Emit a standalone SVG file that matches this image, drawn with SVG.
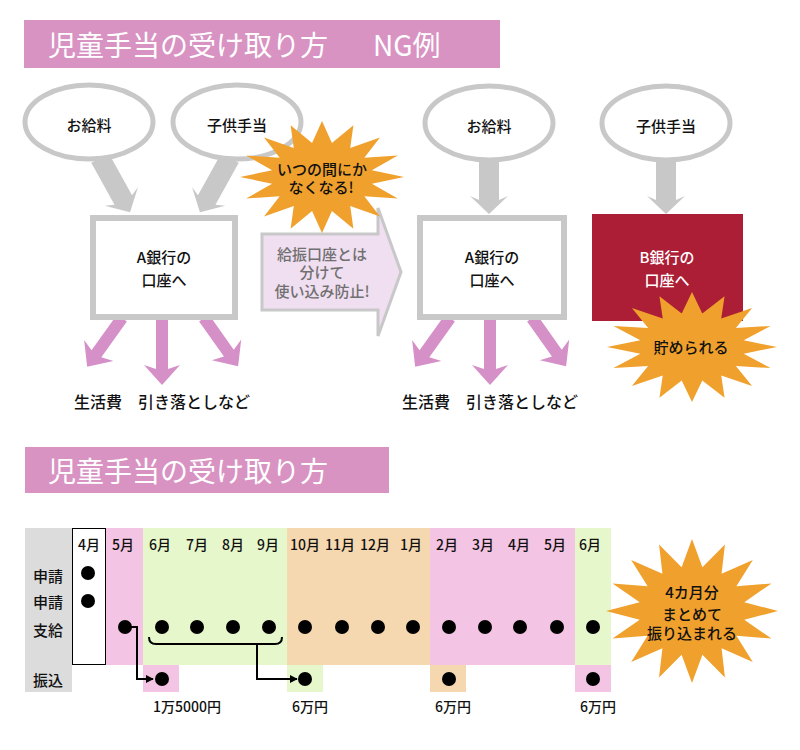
<svg xmlns="http://www.w3.org/2000/svg" xmlns:xlink="http://www.w3.org/1999/xlink" width="800" height="750" viewBox="0 0 800 750">
<style>
text{font-family:"Noto Sans CJK JP","Liberation Sans",sans-serif;fill:#111;font-weight:500}
.t{font-size:15px;text-anchor:middle}
.title{font-size:28px;fill:#fff;font-weight:400}
.bar{fill:#d893c3}
.ell{fill:#fff;stroke:#c8c8c8;stroke-width:5}
.box{fill:#fff;stroke:#c8c8c8;stroke-width:6}
.garrow{fill:#c8c8c8}
.parrow{fill:#d690c8}
.star{fill:#f0a02c}
.m{font-size:14px;text-anchor:middle}
.lbl{font-size:15px;text-anchor:middle}
.dot{fill:#000}
.ln{fill:none;stroke:#000;stroke-width:2}
</style>
<defs>
<path id="star" d="M100,0 L60.8,12.1 L92.4,38.3 L51.6,34.4 L70.7,70.7 L34.4,51.6 L38.3,92.4 L12.1,60.8 L0,100 L-12.1,60.8 L-38.3,92.4 L-34.4,51.6 L-70.7,70.7 L-51.6,34.4 L-92.4,38.3 L-60.8,12.1 L-100,0 L-60.8,-12.1 L-92.4,-38.3 L-51.6,-34.4 L-70.7,-70.7 L-34.4,-51.6 L-38.3,-92.4 L-12.1,-60.8 L0,-100 L12.1,-60.8 L38.3,-92.4 L34.4,-51.6 L70.7,-70.7 L51.6,-34.4 L92.4,-38.3 L60.8,-12.1 Z"/>
<marker id="ah" viewBox="0 0 10 10" refX="9" refY="5" markerWidth="8" markerHeight="8" markerUnits="userSpaceOnUse" orient="auto"><path d="M0,0 L10,5 L0,10 Z" fill="#000"/></marker>
</defs>
<rect width="800" height="750" fill="#fff"/>

<g id="title1">
<rect class="bar" x="24" y="20" width="476" height="48"/>
<text class="title" x="48" y="56">児童手当の受け取り方<tspan x="373">NG例</tspan></text>
</g>

<g id="connectors">
<path class="garrow" d="M0,-10 H48 L44,-19 L62,0 L44,19 L48,10 H0 Z" transform="translate(100,158) rotate(61)"/>
<path class="garrow" d="M0,-10 H48 L44,-19 L62,0 L44,19 L48,10 H0 Z" transform="translate(230,158) rotate(119)"/>
<path class="garrow" d="M0,-10 H40 L36,-19 L54,0 L36,19 L40,10 H0 Z" transform="translate(489,160) rotate(90)"/>
<path class="garrow" d="M0,-10 H40 L36,-19 L54,0 L36,19 L40,10 H0 Z" transform="translate(666,160) rotate(90)"/>
<path class="parrow" d="M0,-6 H44 L40,-18 L60,0 L40,18 L44,6 H0 Z" transform="translate(122,318) rotate(125.5)"/>
<path class="parrow" d="M0,-6 H51 L47,-18 L67,0 L47,18 L51,6 H0 Z" transform="translate(162,318) rotate(90)"/>
<path class="parrow" d="M0,-6 H43 L39,-18 L59,0 L39,18 L43,6 H0 Z" transform="translate(204,318) rotate(54.7)"/>
<path class="parrow" d="M0,-6 H44 L40,-18 L60,0 L40,18 L44,6 H0 Z" transform="translate(450,318) rotate(125.5)"/>
<path class="parrow" d="M0,-6 H51 L47,-18 L67,0 L47,18 L51,6 H0 Z" transform="translate(490,318) rotate(90)"/>
<path class="parrow" d="M0,-6 H43 L39,-18 L59,0 L39,18 L43,6 H0 Z" transform="translate(532,318) rotate(54.7)"/>
</g>

<g id="salary1"><ellipse class="ell" cx="89" cy="122" rx="64" ry="37"/><text class="t" x="89" y="131">お給料</text></g>
<g id="child1"><ellipse class="ell" cx="237" cy="122" rx="64" ry="37"/><text class="t" x="237" y="131">子供手当</text></g>
<g id="bankA1"><rect class="box" x="93" y="218" width="142" height="99"/><text class="t" x="164" y="263">A銀行の</text><text class="t" x="164" y="286">口座へ</text></g>
<g id="expense1"><text class="t" x="162" y="408" style="font-size:16px">生活費　引き落としなど</text></g>

<g id="separate">
<path d="M262,234 H378 V208 L401,272 L378,336 V310 H262 Z" fill="#f0def1" stroke="#c8c8c8" stroke-width="3"/>
<text class="t" x="322" y="260" style="fill:#707070">給振口座とは</text>
<text class="t" x="322" y="278" style="fill:#707070">分けて</text>
<text class="t" x="322" y="297" style="fill:#707070">使い込み防止!</text>
</g>
<g id="star1">
<use xlink:href="#star" class="star" transform="translate(322,177) scale(0.82,0.56)"/>
<text class="t" x="322" y="175">いつの間にか</text>
<text class="t" x="321" y="193">なくなる!</text>
</g>

<g id="salary2"><ellipse class="ell" cx="489" cy="123" rx="64" ry="37"/><text class="t" x="489" y="132">お給料</text></g>
<g id="child2"><ellipse class="ell" cx="666" cy="123" rx="64" ry="37"/><text class="t" x="666" y="132">子供手当</text></g>
<g id="bankA2"><rect class="box" x="420" y="218" width="144" height="99"/><text class="t" x="492" y="263">A銀行の</text><text class="t" x="492" y="286">口座へ</text></g>
<g id="expense2"><text class="t" x="490" y="408" style="font-size:16px">生活費　引き落としなど</text></g>
<g id="bankB"><rect x="592" y="214" width="151" height="107" fill="#ab1e36"/><text class="t" x="667" y="263" style="fill:#fff">B銀行の</text><text class="t" x="667" y="286" style="fill:#fff">口座へ</text></g>
<g id="star2">
<use xlink:href="#star" class="star" transform="translate(692,347) scale(0.85,0.55)"/>
<text class="t" x="691" y="353">貯められる</text>
</g>

<g id="title2">
<rect class="bar" x="25" y="447" width="364" height="46"/>
<text class="title" x="48" y="482">児童手当の受け取り方</text>
</g>

<g id="timeline">
<rect x="25" y="528" width="47" height="164" fill="#dcdcdc"/>
<rect x="72.5" y="528.5" width="33" height="136" fill="#fff" stroke="#000" stroke-width="1"/>
<rect x="106" y="528" width="37" height="137" fill="#f3c4e3"/>
<rect x="143" y="528" width="144" height="137" fill="#e6f8cb"/>
<rect x="287" y="528" width="143" height="137" fill="#f5d8b0"/>
<rect x="430" y="528" width="145" height="137" fill="#f3c4e3"/>
<rect x="575" y="528" width="36" height="137" fill="#e6f8cb"/>
<rect x="143" y="665" width="36" height="27" fill="#f3c4e3"/>
<rect x="287" y="665" width="36" height="27" fill="#e6f8cb"/>
<rect x="430" y="665" width="36" height="27" fill="#f5d8b0"/>
<rect x="575" y="665" width="36" height="27" fill="#f3c4e3"/>
<text class="lbl" x="48" y="582">申請</text>
<text class="lbl" x="48" y="608">申請</text>
<text class="lbl" x="48" y="636">支給</text>
<text class="lbl" x="48" y="686">振込</text>
<text class="m" x="89" y="550">4月</text>
<text class="m" x="123" y="550">5月</text>
<text class="m" x="160" y="550">6月</text>
<text class="m" x="197" y="550">7月</text>
<text class="m" x="233" y="550">8月</text>
<text class="m" x="268" y="550">9月</text>
<text class="m" x="305" y="550">10月</text>
<text class="m" x="340" y="550">11月</text>
<text class="m" x="375" y="550">12月</text>
<text class="m" x="411" y="550">1月</text>
<text class="m" x="447" y="550">2月</text>
<text class="m" x="483" y="550">3月</text>
<text class="m" x="519" y="550">4月</text>
<text class="m" x="555" y="550">5月</text>
<text class="m" x="590" y="550">6月</text>
<g class="dot">
<circle cx="88" cy="573" r="7"/><circle cx="88" cy="601" r="7"/>
<circle cx="125" cy="627" r="7"/><circle cx="162" cy="627" r="7"/><circle cx="197" cy="627" r="7"/><circle cx="233" cy="627" r="7"/><circle cx="269" cy="627" r="7"/><circle cx="305" cy="627" r="7"/><circle cx="342" cy="627" r="7"/><circle cx="378" cy="627" r="7"/><circle cx="413" cy="627" r="7"/><circle cx="449" cy="627" r="7"/><circle cx="485" cy="627" r="7"/><circle cx="520" cy="627" r="7"/><circle cx="557" cy="627" r="7"/><circle cx="593" cy="627" r="7"/>
<circle cx="162" cy="679" r="7"/><circle cx="305" cy="679" r="7"/><circle cx="449" cy="679" r="7"/><circle cx="593" cy="679" r="7"/>
</g>
<text class="m" x="187" y="712">1万5000円</text>
<text class="m" x="310" y="712">6万円</text>
<text class="m" x="453" y="712">6万円</text>
<text class="m" x="598" y="712">6万円</text>
</g>

<g id="timeline-connectors">
<path class="ln" d="M125,627 H137 V679 H153" marker-end="url(#ah)"/>
<path class="ln" d="M149,637 Q149,644 156,644 H275 Q282,644 282,637"/>
<path class="ln" d="M257,644 V679 H297" marker-end="url(#ah)"/>
</g>

<g id="star3">
<use xlink:href="#star" class="star" transform="translate(692,611) scale(0.86,0.72)"/>
<text class="t" x="692" y="598">4カ月分</text>
<text class="t" x="692" y="620">まとめて</text>
<text class="t" x="692" y="639">振り込まれる</text>
</g>
</svg>
